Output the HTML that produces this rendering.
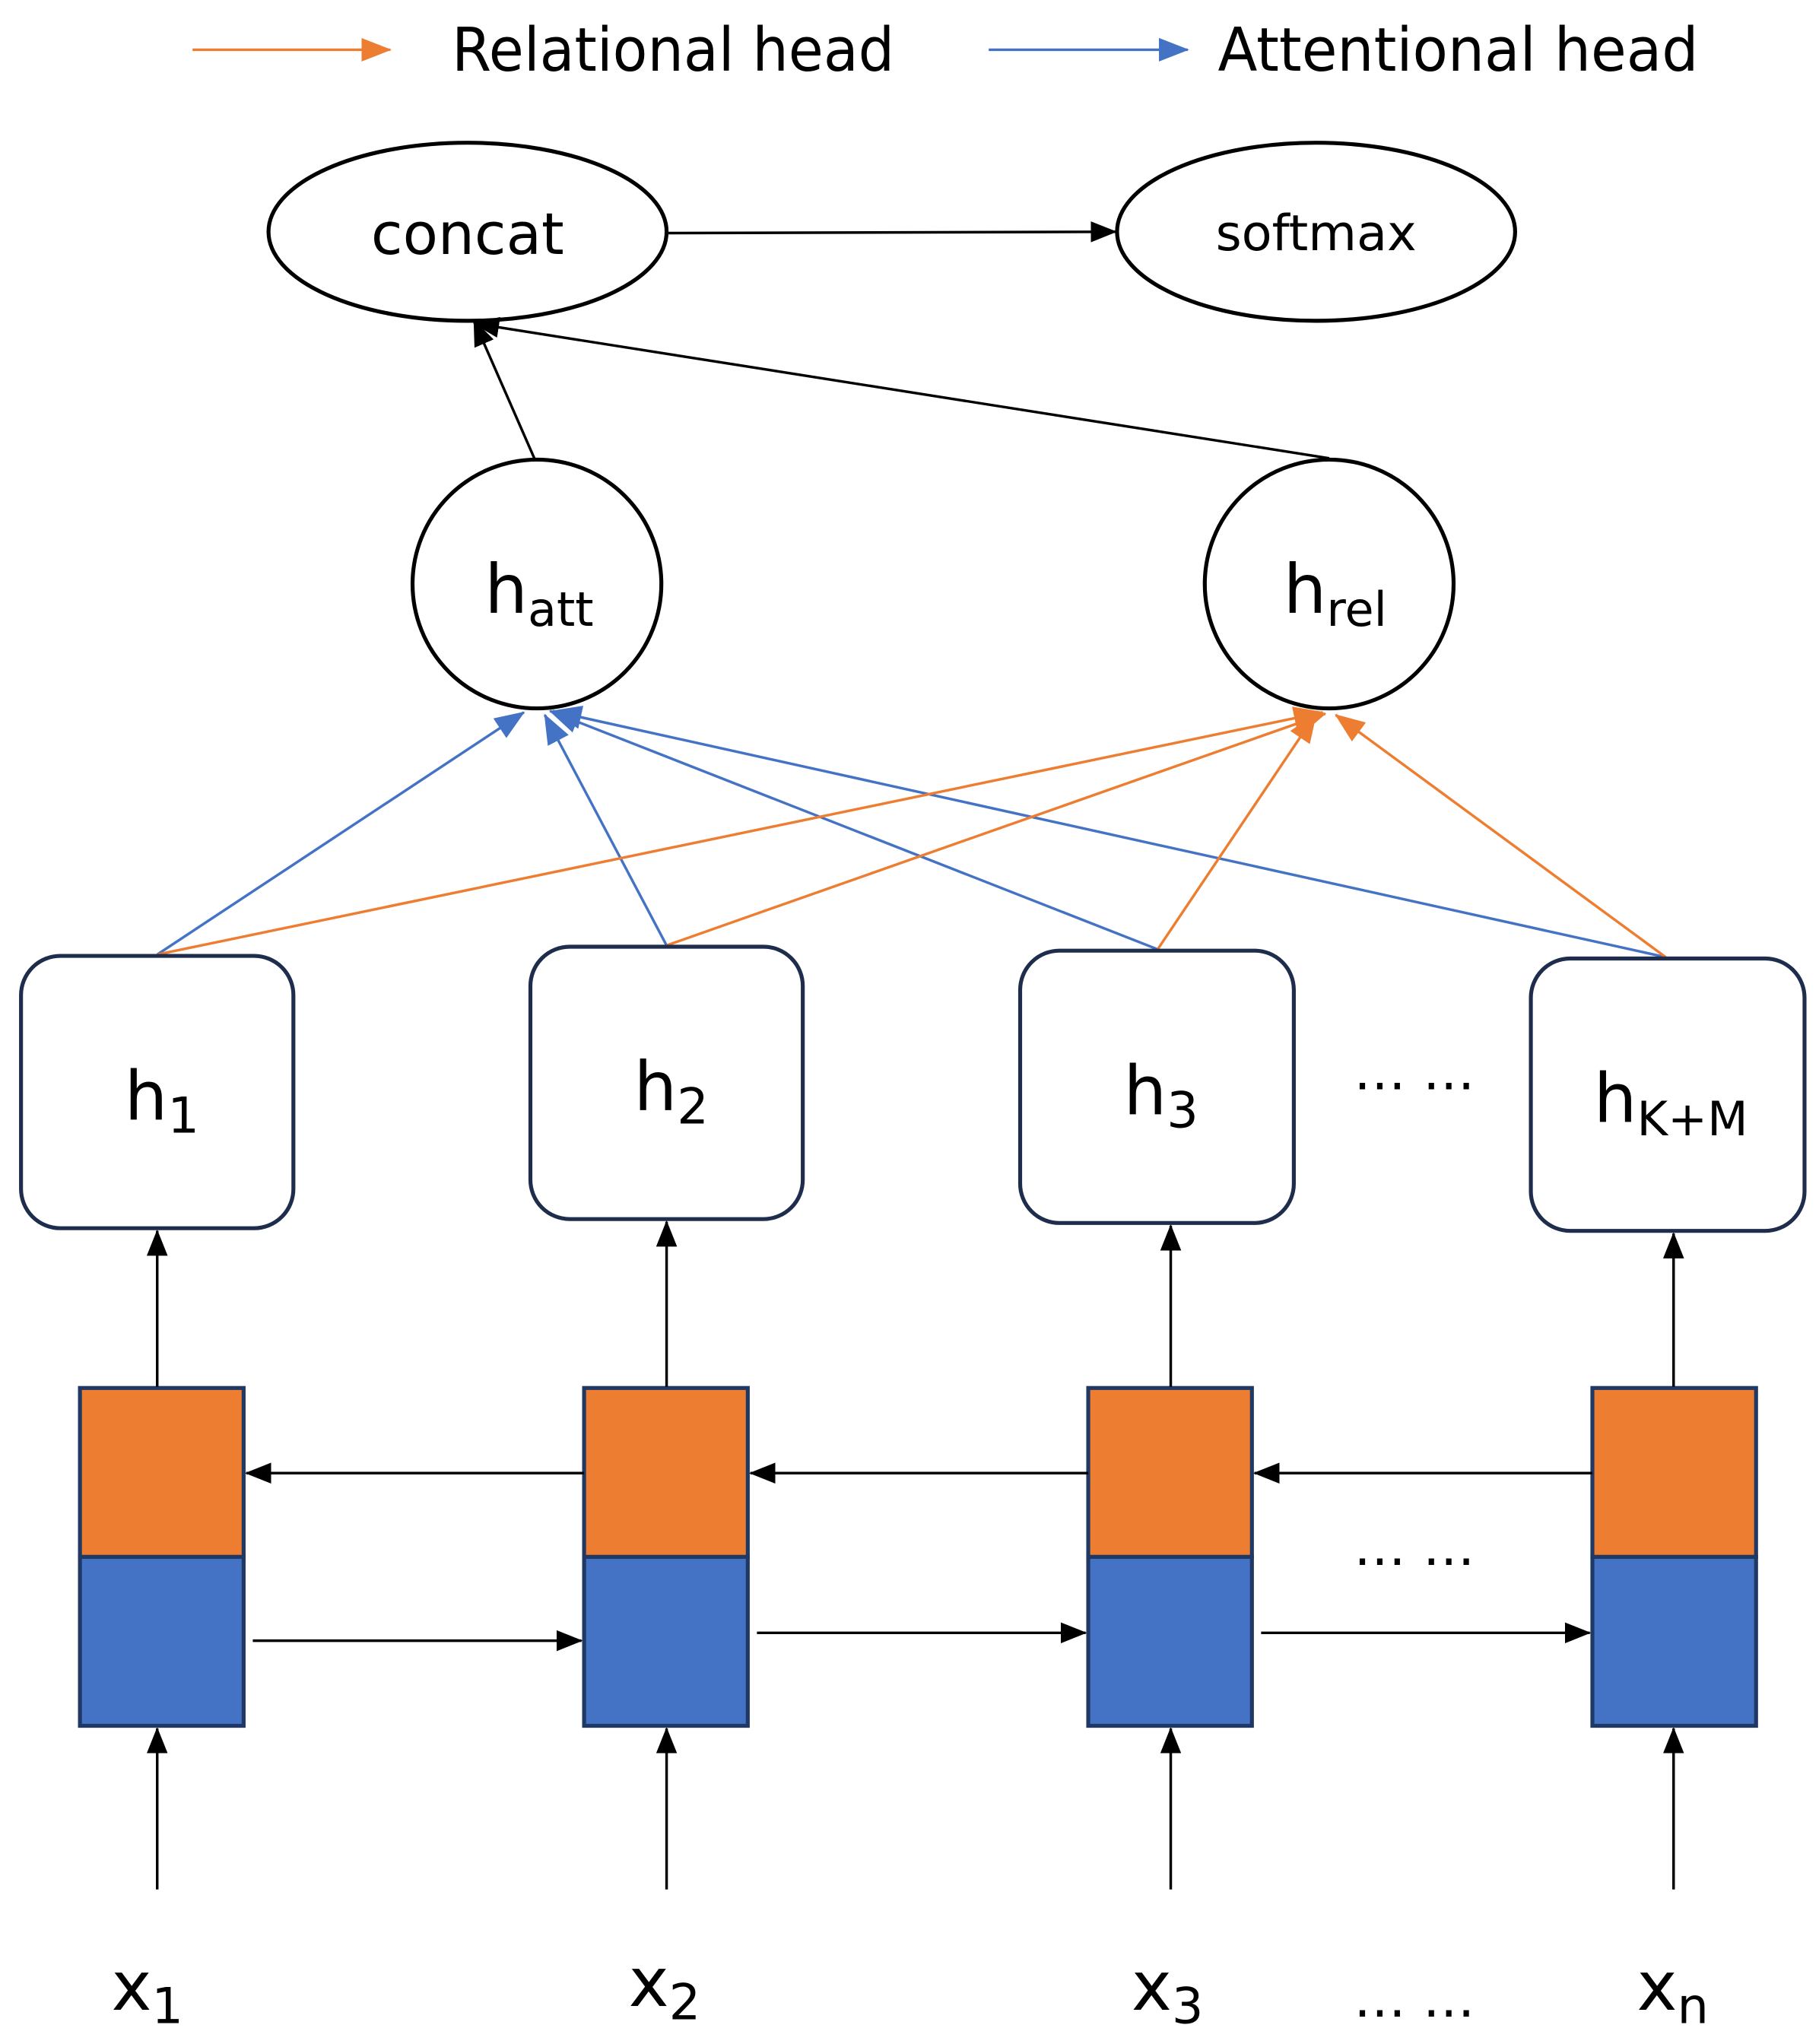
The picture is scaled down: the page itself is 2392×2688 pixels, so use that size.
<!DOCTYPE html>
<html><head><meta charset="utf-8"><style>
html,body{margin:0;padding:0;background:#fff}
svg{display:block}
text{font-family:"DejaVu Sans","Liberation Sans",sans-serif;fill:#000}
</style></head><body>
<svg width="2392" height="2688" viewBox="0 0 1389 1561" xmlns="http://www.w3.org/2000/svg">
<defs>
<marker id="kb" markerWidth="20" markerHeight="20" refX="19" refY="10" orient="auto" markerUnits="userSpaceOnUse"><path d="M0,2L20,10L0,18z" fill="#000"/></marker>
<marker id="ob" markerWidth="24" markerHeight="24" refX="22" refY="12" orient="auto" markerUnits="userSpaceOnUse"><path d="M0,3L23,12L0,21z" fill="#ED7D31"/></marker>
<marker id="bb" markerWidth="24" markerHeight="24" refX="22" refY="12" orient="auto" markerUnits="userSpaceOnUse"><path d="M0,3L23,12L0,21z" fill="#4472C4"/></marker>
</defs>
<line x1="147" y1="38" x2="298" y2="38" stroke="#ED7D31" stroke-width="2" marker-end="url(#ob)"/>
<text x="345" y="54" font-size="46" textLength="338" lengthAdjust="spacingAndGlyphs">Relational head</text>
<line x1="755" y1="38" x2="907" y2="38" stroke="#4472C4" stroke-width="2" marker-end="url(#bb)"/>
<text x="930" y="54" font-size="46" textLength="367" lengthAdjust="spacingAndGlyphs">Attentional head</text>
<ellipse cx="357" cy="177" rx="152" ry="68" fill="#fff" stroke="#000" stroke-width="3"/>
<text x="357" y="194" font-size="44" text-anchor="middle">concat</text>
<ellipse cx="1005" cy="177" rx="152" ry="68" fill="#fff" stroke="#000" stroke-width="3"/>
<text x="1005" y="191" font-size="38" text-anchor="middle">softmax</text>
<line x1="510" y1="178" x2="852" y2="177" stroke="#000" stroke-width="2" marker-end="url(#kb)"/>
<line x1="408" y1="350" x2="362" y2="245" stroke="#000" stroke-width="2" marker-end="url(#kb)"/>
<line x1="1015" y1="350" x2="362" y2="247" stroke="#000" stroke-width="2" marker-end="url(#kb)"/>
<circle cx="410" cy="446" r="95" fill="#fff" stroke="#000" stroke-width="3"/>
<text x="370" y="468" font-size="52">h<tspan font-size="36" dy="10">att</tspan></text>
<circle cx="1015" cy="446" r="95" fill="#fff" stroke="#000" stroke-width="3"/>
<text x="980" y="468" font-size="52">h<tspan font-size="36" dy="10">rel</tspan></text>
<g stroke="#4472C4" stroke-width="2" fill="none">
<line x1="120" y1="729" x2="400" y2="544" marker-end="url(#bb)"/>
<line x1="509" y1="722" x2="416" y2="546" marker-end="url(#bb)"/>
<line x1="884" y1="725" x2="420" y2="543" marker-end="url(#bb)"/>
<line x1="1272" y1="731" x2="422" y2="543" marker-end="url(#bb)"/>
</g>
<g stroke="#ED7D31" stroke-width="2" fill="none">
<line x1="120" y1="729" x2="1010" y2="544" marker-end="url(#ob)"/>
<line x1="509" y1="722" x2="1012" y2="545" marker-end="url(#ob)"/>
<line x1="884" y1="725" x2="1005" y2="545" marker-end="url(#ob)"/>
<line x1="1272" y1="731" x2="1020" y2="546" marker-end="url(#ob)"/>
</g>
<g fill="#fff" stroke="#1f2d4d" stroke-width="3">
<rect x="16" y="730" width="208" height="208" rx="30"/>
<rect x="405" y="723" width="208" height="208" rx="30"/>
<rect x="779" y="726" width="209" height="208" rx="30"/>
<rect x="1169" y="732" width="209" height="208" rx="30"/>
</g>
<text x="95" y="855" font-size="52">h<tspan font-size="38" dy="10">1</tspan></text>
<text x="484" y="848" font-size="52">h<tspan font-size="38" dy="10">2</tspan></text>
<text x="858" y="851" font-size="52">h<tspan font-size="38" dy="10">3</tspan></text>
<text x="1217" y="857" font-size="52">h<tspan font-size="36" dy="10">K+M</tspan></text>
<text x="1080" y="832" font-size="40" text-anchor="middle">… …</text>
<g stroke="#1f3864" stroke-width="3">
<rect x="61" y="1060" width="125" height="129" fill="#ED7D31"/><rect x="61" y="1189" width="125" height="129" fill="#4472C4"/>
<rect x="446" y="1060" width="125" height="129" fill="#ED7D31"/><rect x="446" y="1189" width="125" height="129" fill="#4472C4"/>
<rect x="831" y="1060" width="125" height="129" fill="#ED7D31"/><rect x="831" y="1189" width="125" height="129" fill="#4472C4"/>
<rect x="1216" y="1060" width="125" height="129" fill="#ED7D31"/><rect x="1216" y="1189" width="125" height="129" fill="#4472C4"/>
</g>
<g stroke="#000" stroke-width="2">
<line x1="120" y1="1059" x2="120" y2="940" marker-end="url(#kb)"/>
<line x1="509" y1="1059" x2="509" y2="933" marker-end="url(#kb)"/>
<line x1="894" y1="1059" x2="894" y2="936" marker-end="url(#kb)"/>
<line x1="1278" y1="1059" x2="1278" y2="942" marker-end="url(#kb)"/>
<line x1="446" y1="1125" x2="188" y2="1125" marker-end="url(#kb)"/>
<line x1="831" y1="1125" x2="573" y2="1125" marker-end="url(#kb)"/>
<line x1="1216" y1="1125" x2="958" y2="1125" marker-end="url(#kb)"/>
<line x1="193" y1="1253" x2="444" y2="1253" marker-end="url(#kb)"/>
<line x1="578" y1="1247" x2="829" y2="1247" marker-end="url(#kb)"/>
<line x1="963" y1="1247" x2="1214" y2="1247" marker-end="url(#kb)"/>
<line x1="120" y1="1443" x2="120" y2="1320" marker-end="url(#kb)"/>
<line x1="509" y1="1443" x2="509" y2="1320" marker-end="url(#kb)"/>
<line x1="894" y1="1443" x2="894" y2="1320" marker-end="url(#kb)"/>
<line x1="1278" y1="1443" x2="1278" y2="1320" marker-end="url(#kb)"/>
</g>
<text x="1080" y="1195" font-size="40" text-anchor="middle">… …</text>
<text x="1080" y="1540" font-size="40" text-anchor="middle">… …</text>
<text x="85" y="1535" font-size="52">x<tspan font-size="38" dy="10">1</tspan></text>
<text x="480" y="1532" font-size="52">x<tspan font-size="38" dy="10">2</tspan></text>
<text x="864" y="1535" font-size="52">x<tspan font-size="38" dy="10">3</tspan></text>
<text x="1250" y="1535" font-size="52">x<tspan font-size="38" dy="10">n</tspan></text>
</svg>
</body></html>
